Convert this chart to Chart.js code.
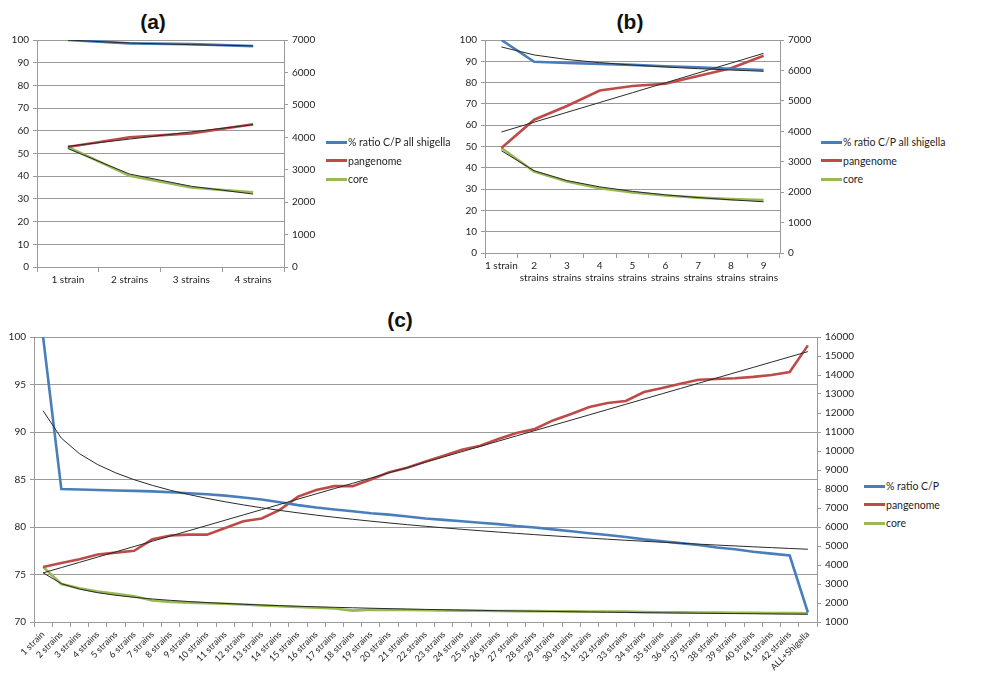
<!DOCTYPE html>
<html>
<head>
<meta charset="utf-8">
<script src="https://cdn.jsdelivr.net/npm/chart.js@4.4.0/dist/chart.umd.min.js"></script>
<style>
  body { margin: 0; background: #fff; width: 984px; height: 679px; overflow: hidden; position: relative; font-family: Lato, 'Liberation Sans', sans-serif; }
  canvas { position: absolute; }
  .title { position: absolute; font: bold 21px 'Liberation Sans', Arial, sans-serif; color: #111; transform: translate(-50%, -50%); }
  .legend { position: absolute; font-size: 10.5px; color: #1e1e1e; }
  .legend div { display: flex; align-items: center; height: 18.5px; white-space: nowrap; }
  .legend .sw { display: inline-block; width: 21px; height: 3px; margin-right: 1px; }
</style>
</head>
<body>

<div class="title" style="left:153px;top:22px">(a)</div>
<div class="title" style="left:630px;top:22px">(b)</div>
<div class="title" style="left:400px;top:320px">(c)</div>

<canvas id="chartA" width="320" height="300" style="left:0;top:0"></canvas>
<canvas id="chartB" width="370" height="300" style="left:445px;top:0"></canvas>
<canvas id="chartC" width="860" height="379" style="left:0;top:300px"></canvas>

<div class="legend" style="left:326px;top:133px">
  <div><span class="sw" style="background:#4a7ebb"></span>% ratio C/P all shigella</div>
  <div><span class="sw" style="background:#be4b48"></span>pangenome</div>
  <div><span class="sw" style="background:#98b954"></span>core</div>
</div>
<div class="legend" style="left:821px;top:133px">
  <div><span class="sw" style="background:#4a7ebb"></span>% ratio C/P all shigella</div>
  <div><span class="sw" style="background:#be4b48"></span>pangenome</div>
  <div><span class="sw" style="background:#98b954"></span>core</div>
</div>
<div class="legend" style="left:864px;top:477px">
  <div><span class="sw" style="background:#4a7ebb"></span>% ratio C/P</div>
  <div><span class="sw" style="background:#be4b48"></span>pangenome</div>
  <div><span class="sw" style="background:#98b954"></span>core</div>
</div>

<script>
// ---- (a) ----
const catsA = ['1 strain', '2 strains', '3 strains', '4 strains']
const ratioA = [100, 98.5, 98.2, 97.3]
const panA = [3700, 4000, 4120, 4400]
const coreA = [3700, 2810, 2450, 2300]

// ---- (b) ----
const catsB = ['1 strain', ['2', 'strains'], ['3', 'strains'], ['4', 'strains'], ['5', 'strains'],
  ['6', 'strains'], ['7', 'strains'], ['8', 'strains'], ['9', 'strains']]
const ratioB = [100, 89.8, 89.2, 88.8, 88.3, 87.7, 87.2, 86.5, 85.9]
const panB = [3450, 4380, 4830, 5340, 5490, 5560, 5820, 6070, 6480]
const coreB = [3450, 2680, 2350, 2130, 1990, 1890, 1820, 1770, 1740]

// ---- (c) ----
const catsC = ['1 strain']
for (let i = 2; i <= 42; i++) catsC.push(i + ' strains')
catsC.push('ALL+Shigella')

const ratioC = [100, 84.0, 83.95, 83.9, 83.85, 83.8, 83.75, 83.65, 83.55, 83.45,
  83.3, 83.1, 82.9, 82.6, 82.3, 82.05, 81.85, 81.65, 81.45, 81.3,
  81.1, 80.9, 80.75, 80.6, 80.45, 80.3, 80.1, 79.95, 79.75, 79.55,
  79.35, 79.15, 78.95, 78.7, 78.5, 78.3, 78.1, 77.85, 77.65, 77.4,
  77.2, 77.0, 71.0]
const panC = [3900, 4100, 4300, 4550, 4650, 4750, 5350, 5550, 5600, 5600,
  5950, 6300, 6450, 6900, 7600, 7950, 8150, 8150, 8500, 8880,
  9120, 9450, 9750, 10070, 10280, 10630, 10950, 11160, 11610, 11950,
  12320, 12530, 12630, 13100, 13320, 13540, 13750, 13790, 13830, 13900,
  14000, 14160, 15560]
const coreC = [3900, 3000, 2780, 2600, 2480, 2350, 2130, 2060, 2020, 1990,
  1960, 1920, 1870, 1830, 1790, 1750, 1710, 1600, 1650, 1640,
  1630, 1620, 1610, 1600, 1590, 1580, 1575, 1570, 1565, 1560,
  1555, 1550, 1545, 1520, 1510, 1505, 1500, 1495, 1490, 1485,
  1475, 1465, 1460]

const BLUE = '#4a7ebb', RED = '#be4b48', GREEN = '#98b954'
const GRID = '#9a9a9a', TXT = '#1e1e1e'

// excel style trendlines, fitted on the series above
function linTrend(v) {
  const n = v.length
  let sx = 0, sy = 0, sxx = 0, sxy = 0
  v.forEach((y, i) => { const x = i + 1; sx += x; sy += y; sxx += x * x; sxy += x * y })
  const b = (n * sxy - sx * sy) / (n * sxx - sx * sx)
  const a = (sy - b * sx) / n
  return v.map((_, i) => a + b * (i + 1))
}
function powTrend(v) {
  const n = v.length
  let sx = 0, sy = 0, sxx = 0, sxy = 0
  v.forEach((y, i) => { const x = Math.log(i + 1), ly = Math.log(y); sx += x; sy += ly; sxx += x * x; sxy += x * ly })
  const b = (n * sxy - sx * sy) / (n * sxx - sx * sx)
  const a = (sy - b * sx) / n
  return v.map((_, i) => Math.exp(a) * Math.pow(i + 1, b))
}

function line(label, data, color, axis) {
  return { label, data, borderColor: color, backgroundColor: color, borderWidth: 2.6, yAxisID: axis, order: 2 }
}
function trend(data, axis) {
  return { label: 'trend', data, borderColor: '#2a2a2a', borderWidth: 1, yAxisID: axis, order: 1 }
}

function makeChart(id, cfg) {
  const font = { family: 'Lato', size: 10 }
  return new Chart(document.getElementById(id), {
    type: 'line',
    data: {
      labels: cfg.labels,
      datasets: [
        line(cfg.ratioName, cfg.ratio, BLUE, 'y'),
        line('pangenome', cfg.pan, RED, 'y1'),
        line('core', cfg.core, GREEN, 'y1'),
        trend(powTrend(cfg.ratio), 'y'),
        trend(linTrend(cfg.pan), 'y1'),
        trend(powTrend(cfg.core), 'y1')
      ]
    },
    options: {
      responsive: false,
      animation: false,
      layout: { padding: { top: cfg.top, left: 0, right: 0, bottom: 0 } },
      elements: { point: { radius: 0 }, line: { tension: 0 } },
      plugins: { legend: { display: false }, tooltip: { enabled: false } },
      scales: {
        x: {
          offset: true,
          grid: { offset: true, drawOnChartArea: false, color: GRID, tickLength: 5 },
          border: { color: GRID },
          ticks: {
            font: { family: 'Lato', size: cfg.xFont },
            color: TXT, autoSkip: false,
            maxRotation: cfg.rot, minRotation: cfg.rot, padding: 2
          },
          afterFit: (s) => { s.height = cfg.xH }
        },
        y: {
          position: 'left', min: cfg.yMin, max: cfg.yMax,
          ticks: { stepSize: cfg.yStep, font, color: TXT, padding: 4, callback: (v) => String(v) },
          grid: { color: GRID, tickLength: 4 },
          border: { color: GRID },
          afterFit: (s) => { s.width = cfg.yW }
        },
        y1: {
          position: 'right', min: cfg.y1Min, max: cfg.y1Max,
          ticks: { stepSize: cfg.y1Step, font, color: TXT, padding: 4, callback: (v) => String(v) },
          grid: { drawOnChartArea: false, color: GRID, tickLength: 4 },
          border: { color: GRID },
          afterFit: (s) => { s.width = cfg.y1W }
        }
      }
    }
  })
}

makeChart('chartA', {
  labels: catsA, ratio: ratioA, pan: panA, core: coreA, ratioName: '% ratio C/P all shigella',
  top: 40, xH: 33, yW: 37, y1W: 36, xFont: 10, rot: 0,
  yMin: 0, yMax: 100, yStep: 10, y1Min: 0, y1Max: 7000, y1Step: 1000
})

makeChart('chartB', {
  labels: catsB, ratio: ratioB, pan: panB, core: coreB, ratioName: '% ratio C/P all shigella',
  top: 40, xH: 47, yW: 40, y1W: 35, xFont: 10, rot: 0,
  yMin: 0, yMax: 100, yStep: 10, y1Min: 0, y1Max: 7000, y1Step: 1000
})

makeChart('chartC', {
  labels: catsC, ratio: ratioC, pan: panC, core: coreC, ratioName: '% ratio C/P',
  top: 37, xH: 57, yW: 34, y1W: 43, xFont: 9, rot: 45,
  yMin: 70, yMax: 100, yStep: 5, y1Min: 1000, y1Max: 16000, y1Step: 1000
})
</script>
</body>
</html>
